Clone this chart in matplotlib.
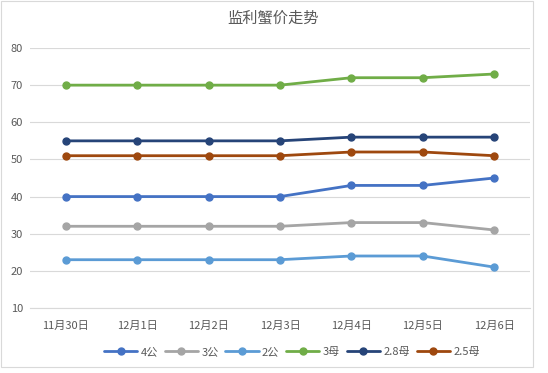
import matplotlib
matplotlib.use("Agg")
import matplotlib.pyplot as plt
from matplotlib.patches import Rectangle

plt.rcParams['font.family'] = ['Noto Sans CJK SC', 'DejaVu Sans']

categories = ["11月30日", "12月1日", "12月2日", "12月3日", "12月4日", "12月5日", "12月6日"]
series_names = ["4公", "3公", "2公", "3母", "2.8母", "2.5母"]
v_4gong = [40, 40, 40, 40, 43, 43, 45]
v_3gong = [32, 32, 32, 32, 33, 33, 31]
v_2gong = [23, 23, 23, 23, 24, 24, 21]
v_3mu = [70, 70, 70, 70, 72, 72, 73]
v_28mu = [55, 55, 55, 55, 56, 56, 56]
v_25mu = [51, 51, 51, 51, 52, 52, 51]
yticks = [10, 20, 30, 40, 50, 60, 70, 80]
title = "监利蟹价走势"

colors = ["#4472C4", "#A5A5A5", "#5B9BD5", "#70AD47", "#264478", "#9E480E"]
values = [v_4gong, v_3gong, v_2gong, v_3mu, v_28mu, v_25mu]

W, H = 548, 373
fig = plt.figure(figsize=(W / 100, H / 100), dpi=100)
fig.patches.append(Rectangle((1 / W, 6 / H), 532 / W, 366 / H, transform=fig.transFigure,
                             fill=False, edgecolor="#D9D9D9", linewidth=0.8))

ax = fig.add_axes([30 / W, 1 - 308 / H, 500 / W, 260 / H])
x = list(range(len(categories)))
for name, vals, c in zip(series_names, values, colors):
    ax.plot(x, vals, color=c, linewidth=2.0, marker="o", markersize=5, label=name,
            solid_capstyle="round", zorder=3)

ax.set_xlim(-0.5, len(categories) - 0.5)
ax.set_ylim(10, 80)
ax.set_yticks(yticks)
ax.set_xticks(x)
ax.set_xticklabels(categories)
ax.grid(axis="y", color="#D9D9D9", linewidth=0.8)
ax.set_axisbelow(True)
for s in ["top", "right", "left"]:
    ax.spines[s].set_visible(False)
ax.spines["bottom"].set_color("#D9D9D9")
ax.tick_params(axis="both", length=0, colors="#595959", labelsize=8)
ax.tick_params(axis="y", pad=5)
ax.tick_params(axis="x", pad=9)

fig.text(273 / W, 1 - 18 / H, title, ha="center", va="center", fontsize=11, color="#595959")

leg = fig.legend(loc="center", bbox_to_anchor=(292 / W, 1 - 352 / H), ncol=6, frameon=False,
                 fontsize=8, handlelength=3.0, columnspacing=0.6, handletextpad=0.3,
                 labelcolor="#595959")

fig.savefig("out.png", dpi=100)
